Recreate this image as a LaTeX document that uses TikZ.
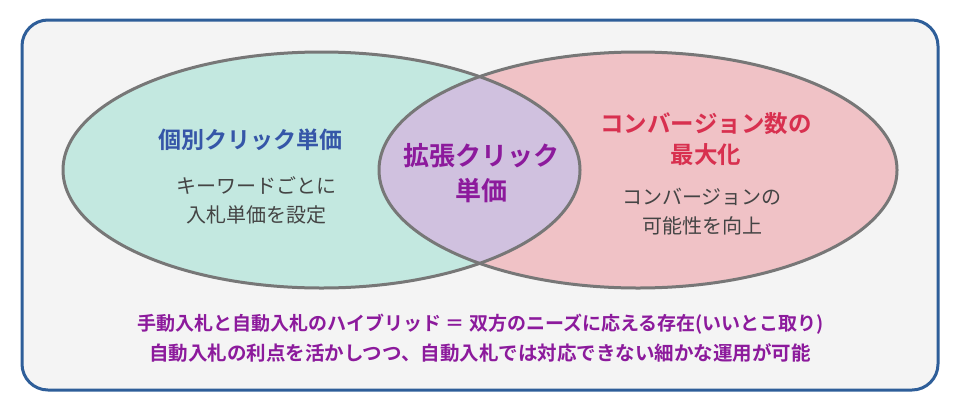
\documentclass[tikz,border=0pt]{standalone}
\usepackage{fontspec}
\setmainfont{Noto Sans CJK JP}[BoldFont={Noto Sans CJK JP Bold}]
\definecolor{frameblue}{HTML}{2E5E99}
\definecolor{bgpanel}{HTML}{F4F4F4}
\definecolor{teal}{HTML}{C3E8E0}
\definecolor{pinkc}{HTML}{F0C2C6}
\definecolor{lav}{HTML}{D0C1DF}
\definecolor{ringgray}{HTML}{777777}
\definecolor{titleblue}{HTML}{3556A8}
\definecolor{titlered}{HTML}{D8304F}
\definecolor{titlepurple}{HTML}{8C1A9C}
\definecolor{bodygray}{HTML}{444444}
\tikzset{
  ring/.style={draw=ringgray,line width=3pt},
  bluetitle/.style={text=titleblue,font=\bfseries\fontsize{23}{29}\selectfont,align=center},
  redtitle/.style={text=titlered,font=\bfseries\fontsize{23.5}{31}\selectfont,align=center},
  purpletitle/.style={text=titlepurple,font=\bfseries\fontsize{26}{35}\selectfont,align=center},
  bodytext/.style={text=bodygray,font=\fontsize{20}{29}\selectfont,align=center},
  bottomtext/.style={text=titlepurple,font=\bfseries,align=center},
}
\begin{document}
\begin{tikzpicture}[x=1pt,y=-1pt]
\useasboundingbox (0,0) rectangle (960,410);
\fill[white] (0,0) rectangle (960,410);
\draw[frameblue,line width=3pt,fill=bgpanel,rounded corners=26pt] (22,20) rectangle (938,390);
% ellipses
\fill[teal] (321.5,170) ellipse [x radius=258.5, y radius=118];
\fill[pinkc] (638,170) ellipse [x radius=259, y radius=118];
\begin{scope}
\clip (638,170) ellipse [x radius=259, y radius=118];
\fill[lav] (321.5,170) ellipse [x radius=258.5, y radius=118];
\end{scope}
\draw[ring] (321.5,170) ellipse [x radius=258.5, y radius=118];
\draw[ring] (638,170) ellipse [x radius=259, y radius=118];
% texts
\node[bluetitle] (lefttitle) at (250,140) {個別クリック単価};
\node[bodytext] (leftbody) at (256,200) {キーワードごとに\\入札単価を設定};
\node[purpletitle] (midtitle) at (481,173) {拡張クリック\\単価};
\node[redtitle] (righttitle) at (706,139) {コンバージョン数の\\最大化};
\node[bodytext] (rightbody) at (702,212) {コンバージョンの\\可能性を向上};
\node[bottomtext,font=\bfseries\fontsize{19}{24}\selectfont] (bottom1) at (481,324) {手動入札と自動入札のハイブリッド ＝ 双方のニーズに応える存在(いいとこ取り)};
\node[bottomtext,font=\bfseries\fontsize{19.5}{24}\selectfont] (bottom2) at (480,353) {自動入札の利点を活かしつつ、自動入札では対応できない細かな運用が可能};
\end{tikzpicture}
\end{document}
